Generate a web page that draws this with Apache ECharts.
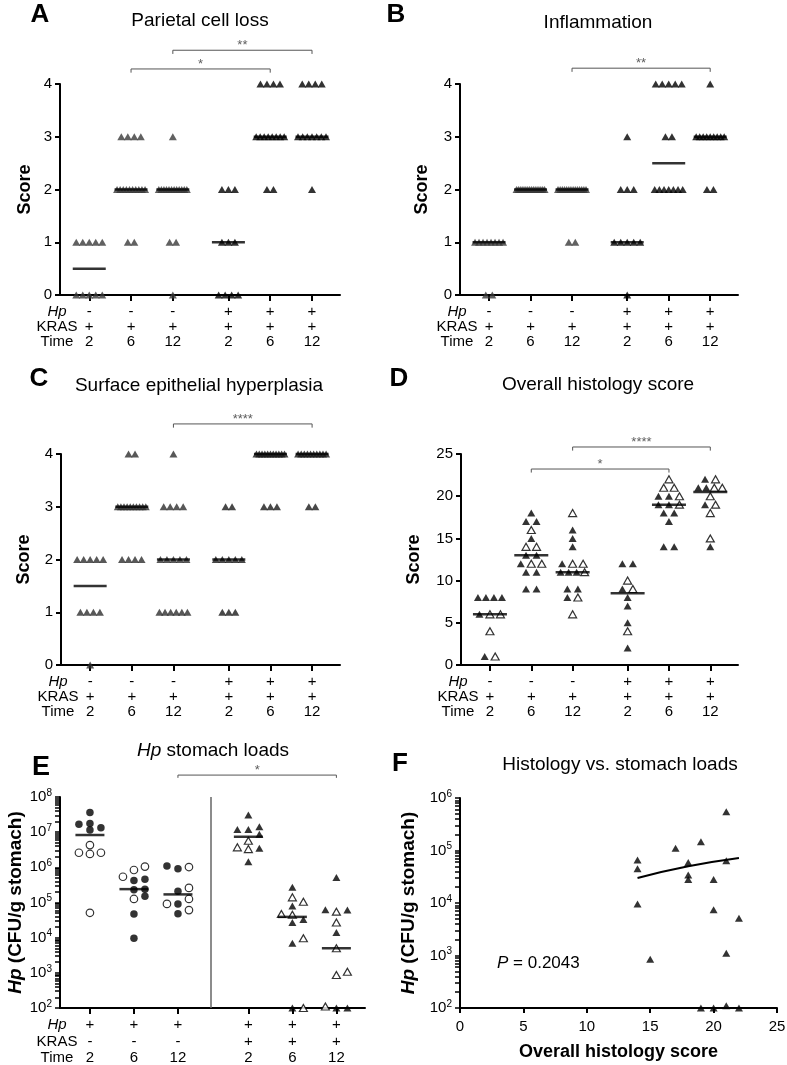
<!DOCTYPE html>
<html>
<head>
<meta charset="utf-8">
<title>Histology and stomach loads</title>
<script src="https://cdn.jsdelivr.net/npm/echarts@6.0.0/dist/echarts.min.js"></script>
<style>
  html, body { margin: 0; padding: 0; background: #fff; }
  #main { width: 787px; height: 1065px; }
</style>
</head>
<body>
<div id="main"></div>
<script>
// ---- values ----
var hpRow = ['-', '-', '-', '+', '+', '+'];
var krasRow = ['+', '+', '+', '+', '+', '+'];
var timeRow = ['2', '6', '12', '2', '6', '12'];
var hpRowLoads = ['+', '+', '+', '+', '+', '+'];
var krasRowLoads = ['-', '-', '-', '+', '+', '+'];

// A  Parietal cell loss
var parietalScores = [
  [1, 1, 1, 1, 1, 0, 0, 0, 0, 0],
  [3, 3, 3, 3, 2, 2, 2, 2, 2, 2, 2, 2, 2, 2, 1, 1],
  [3, 2, 2, 2, 2, 2, 2, 2, 2, 2, 2, 2, 2, 1, 1, 0],
  [2, 2, 2, 1, 1, 1, 0, 0, 0, 0],
  [4, 4, 4, 4, 3, 3, 3, 3, 3, 3, 3, 3, 2, 2],
  [4, 4, 4, 4, 3, 3, 3, 3, 3, 3, 3, 2]
];
var parietalMedian = [0.5, 2, 2, 1, 3, 3];

// B  Inflammation
var inflammationScores = [
  [1, 1, 1, 1, 1, 1, 1, 1, 0, 0],
  [2, 2, 2, 2, 2, 2, 2, 2, 2, 2, 2, 2, 2, 2, 2, 2],
  [2, 2, 2, 2, 2, 2, 2, 2, 2, 2, 2, 2, 2, 2, 1, 1],
  [3, 2, 2, 2, 1, 1, 1, 1, 1, 0],
  [4, 4, 4, 4, 4, 3, 3, 2, 2, 2, 2, 2, 2, 2],
  [4, 3, 3, 3, 3, 3, 3, 3, 3, 3, 2, 2]
];
var inflammationMedian = [1, 2, 2, 1, 2.5, 3];

// C  Surface epithelial hyperplasia
var hyperplasiaScores = [
  [2, 2, 2, 2, 2, 1, 1, 1, 1, 0],
  [4, 4, 3, 3, 3, 3, 3, 3, 3, 3, 3, 3, 2, 2, 2, 2],
  [4, 3, 3, 3, 3, 2, 2, 2, 2, 2, 1, 1, 1, 1, 1, 1],
  [3, 3, 2, 2, 2, 2, 2, 1, 1, 1],
  [4, 4, 4, 4, 4, 4, 4, 4, 4, 4, 4, 3, 3, 3],
  [4, 4, 4, 4, 4, 4, 4, 4, 4, 4, 3, 3]
];
var hyperplasiaMedian = [1.5, 3, 2, 2, 4, 4];

// D  Overall histology score (filled and open triangles)
var histologyFilled = [
  [8, 8, 8, 8, 6, 1],
  [18, 17, 17, 15, 13, 13, 12, 11, 11, 9, 9],
  [16, 15, 14, 12, 11, 11, 11, 9, 9, 8],
  [12, 12, 9, 8, 7, 5, 2],
  [20, 20, 19, 19, 18, 18, 17, 14, 14],
  [22, 21, 21, 19, 14]
];
var histologyOpen = [
  [6, 6, 4, 1],
  [16, 14, 14, 12, 12],
  [18, 12, 12, 11, 8, 6],
  [10, 9, 4],
  [22, 21, 21, 20, 19],
  [22, 21, 21, 20, 19, 18, 15]
];
var histologyMedian = [6, 13, 11, 8.5, 19, 20.5];

// E  Hp stomach loads (CFU/g)
var loadsFilled = [
  [3.6e7, 1.34e7, 1.67e7, 1.77e7, 1.15e7],
  [4.2e5, 4.6e5, 2.4e5, 2.3e5, 1.5e5, 4.7e4, 9.6e3],
  [1.09e6, 9.1e5, 2.1e5, 9.1e4, 4.8e4],
  [3.1e7, 1.2e7, 1.43e7, 1.2e7, 8.7e6, 3.5e6, 1.45e6],
  [2.7e5, 7.9e4, 2.7e4, 3.3e4, 6.9e3, 100],
  [5.1e5, 6.1e4, 6.2e4, 1.4e4, 100, 100]
];
var loadsOpen = [
  [4.3e6, 2.6e6, 2.6e6, 2.4e6, 5.1e4],
  [1.05e6, 8.4e5, 5.4e5, 1.26e5],
  [1.02e6, 2.6e5, 1.26e5, 6.1e4, 9.1e4],
  [5.7e6, 3.7e6, 3.3e6],
  [1.05e5, 1.4e5, 4.7e4, 4.5e4, 9.6e3, 100],
  [5.5e4, 2.7e4, 5e3, 8.7e2, 1.07e3, 110]
];
var loadsMedian = [8.3e6, 2.4e5, 1.7e5, 7.4e6, 3.9e4, 5e3];

// F  Histology vs. stomach loads
var corrScore = [14, 14, 14, 15, 17, 18, 18, 18, 19, 19, 20, 20, 20, 21, 21, 21, 21, 22, 22];
var corrLoad = [6.6e4, 4.5e4, 9.6e3, 8.5e2, 1.1e5, 5.9e4, 3.4e4, 2.8e4, 1.47e5, 100,
                2.8e4, 7.4e3, 100, 5.5e5, 6.4e4, 1.1e3, 110, 5.1e3, 100];
var fitScore = [14, 18, 22];
var fitLoad = [3.0e4, 5.0e4, 7.2e4];
var pValueText = '0.2043';

// ---- layout ----
var FONT = 'Arial, "Liberation Sans", sans-serif';
var SCORE_POS = [1, 2, 3, 4.33, 5.33, 6.33];
var LOAD_POS = [1, 2, 3, 4.6, 5.6, 6.6];
var grids = [
  { left: 60, top: 84, width: 280, height: 211 },
  { left: 460, top: 84, width: 278, height: 211 },
  { left: 61, top: 454, width: 279, height: 211 },
  { left: 461, top: 454, width: 277, height: 211 },
  { left: 60, top: 797, width: 305, height: 211 },
  { left: 460, top: 798, width: 317, height: 210 }
];

var option = {
  animation: false,
  backgroundColor: '#fff',
  textStyle: { fontFamily: FONT },
  grid: grids.map(function (g) {
    return { left: g.left, top: g.top, width: g.width, height: g.height, outerBoundsMode: 'none', containLabel: false };
  }),
  xAxis: [],
  yAxis: [],
  series: [],
  graphic: []
};

function nearestIndex(pos, v) {
  var best = 0;
  pos.forEach(function (p, i) { if (Math.abs(p - v) < Math.abs(pos[best] - v)) best = i; });
  return best;
}

// spread tied values side by side, centred on the group
function rowOffsets(values, stepPx, spanPx, pxPerUnit) {
  var count = {}, seen = {};
  values.forEach(function (v) { count[v] = (count[v] || 0) + 1; });
  return values.map(function (v) {
    var n = count[v];
    var i = seen[v] = seen[v] == null ? 0 : seen[v] + 1;
    var step = n > 1 ? Math.min(stepPx, spanPx / (n - 1)) : 0;
    return (i - (n - 1) / 2) * step / pxPerUnit;
  });
}

// simple beeswarm for continuous values
function swarmOffsets(values, toPx, dPx, stepPx, pxPerUnit) {
  var order = values.map(function (v, i) { return i; })
    .sort(function (a, b) { return values[a] - values[b]; });
  var placed = [], out = [];
  order.forEach(function (i) {
    var py = toPx(values[i]);
    for (var k = 0; k < 40; k++) {
      var cands = k === 0 ? [0] : [k * stepPx, -k * stepPx];
      for (var c = 0; c < cands.length; c++) {
        var cx = cands[c];
        var ok = placed.every(function (p) {
          var dx = p[0] - cx, dy = p[1] - py;
          return dx * dx + dy * dy >= dPx * dPx;
        });
        if (ok) { placed.push([cx, py]); out[i] = cx / pxPerUnit; return; }
      }
    }
  });
  return out;
}

function axisLine() {
  return { show: true, onZero: false, lineStyle: { color: '#000', width: 2 } };
}

function rowsXAxis(gi, ext, pos, rows, lh) {
  option.xAxis.push({
    type: 'value', gridIndex: gi, min: ext[0], max: ext[1],
    axisLine: axisLine(),
    axisTick: { show: true, customValues: pos, length: 6, lineStyle: { color: '#000', width: 2 } },
    axisLabel: {
      customValues: pos, margin: 9, fontSize: 15, lineHeight: lh, color: '#000', fontFamily: FONT,
      formatter: function (v) {
        var i = nearestIndex(pos, v);
        return rows.map(function (r) { return r[i]; }).join('\n');
      }
    },
    splitLine: { show: false },
    name: '{i|Hp}\nKRAS\nTime', nameLocation: 'start', nameGap: 3, nameMoveOverlap: false,
    nameTextStyle: {
      align: 'center', verticalAlign: 'top', fontSize: 15, lineHeight: lh, color: '#000',
      fontFamily: FONT, padding: [9, 0, 0, 0],
      rich: { i: { fontStyle: 'italic', fontSize: 15, lineHeight: lh, color: '#000', fontFamily: FONT } }
    }
  });
  return option.xAxis.length - 1;
}

function scoreYAxis(gi, max, interval, nameGap) {
  option.yAxis.push({
    type: 'value', gridIndex: gi, min: 0, max: max, interval: interval,
    axisLine: axisLine(),
    axisTick: { show: true, length: 5, lineStyle: { color: '#000', width: 2 } },
    axisLabel: { fontSize: 15, color: '#000', margin: 8, fontFamily: FONT },
    splitLine: { show: false },
    name: 'Score', nameLocation: 'middle', nameGap: nameGap, nameMoveOverlap: false,
    nameTextStyle: { fontSize: 18, fontWeight: 'bold', color: '#000', fontFamily: FONT }
  });
  return option.yAxis.length - 1;
}

function supLabel(v) {
  return '10{s|' + Math.round(Math.log10(v)) + '}';
}

function logYAxis(gi, min, max, nameGap) {
  // decade labels, plus 2..9 ticks inside each decade
  var majors = [], ticks = [];
  for (var e = Math.log10(min); e <= Math.log10(max); e++) {
    var p = Math.pow(10, e);
    majors.push(p);
    ticks.push(p);
    if (p < max) for (var m = 2; m <= 9; m++) ticks.push(m * p);
  }
  option.yAxis.push({
    type: 'log', logBase: 10, gridIndex: gi, min: min, max: max,
    axisLine: axisLine(),
    axisTick: { show: true, customValues: ticks, length: 5, lineStyle: { color: '#000', width: 1.5 } },
    axisLabel: {
      customValues: majors, formatter: supLabel, margin: 8, color: '#000', fontFamily: FONT,
      fontSize: 15, lineHeight: 18,
      rich: { s: { fontSize: 10, verticalAlign: 'top', lineHeight: 10, color: '#000', fontFamily: FONT } }
    },
    splitLine: { show: false },
    name: '{i|Hp} (CFU/g stomach)', nameLocation: 'middle', nameGap: nameGap, nameMoveOverlap: false,
    nameTextStyle: {
      fontSize: 19, fontWeight: 'bold', color: '#000', fontFamily: FONT,
      rich: { i: { fontStyle: 'italic', fontWeight: 'bold', fontSize: 19, color: '#000', fontFamily: FONT } }
    }
  });
  return option.yAxis.length - 1;
}

function medianSeries(xi, yi, pos, medians, width) {
  option.series.push({
    type: 'scatter', xAxisIndex: xi, yAxisIndex: yi, silent: true, z: 5,
    symbol: 'rect', symbolSize: [width, 2.5], itemStyle: { color: '#000' },
    data: medians.map(function (m, i) { return [pos[i], m]; })
  });
}

function bracket(xi, yi, x1, x2, y, yEnd, text) {
  option.series.push({
    type: 'line', xAxisIndex: xi, yAxisIndex: yi, clip: false, silent: true, symbol: 'none',
    lineStyle: { color: '#555', width: 1 },
    data: [[x1, yEnd], [x1, y], [x2, y], [x2, yEnd]]
  });
  option.series.push({
    type: 'scatter', xAxisIndex: xi, yAxisIndex: yi, clip: false, silent: true, symbolSize: 0,
    label: { show: true, position: 'top', distance: -2, formatter: text, fontSize: 13, color: '#333', fontFamily: FONT },
    data: [[(x1 + x2) / 2, y]]
  });
}

function pointSeries(xi, yi, pts, symbol, size, filled, color) {
  option.series.push({
    type: 'scatter', xAxisIndex: xi, yAxisIndex: yi, clip: false, silent: true, z: 3,
    symbol: symbol, symbolSize: size,
    itemStyle: filled ? { color: color } : { color: '#fff', borderColor: '#000', borderWidth: 1.2 },
    data: pts
  });
}

// panels A-C: tied integer scores
function tiedPanel(gi, scores, medians, nameGap, colors, brackets) {
  var ext = [0.3, 7];
  var ppu = grids[gi].width / (ext[1] - ext[0]);
  var xi = rowsXAxis(gi, ext, SCORE_POS, [hpRow, krasRow, timeRow], 15);
  var yi = scoreYAxis(gi, 4, 1, nameGap);
  [0, 1].forEach(function (half) {
    var pts = [];
    scores.forEach(function (grp, g) {
      if ((g < 3) !== (half === 0)) return;
      var off = rowOffsets(grp, 6.5, 28, ppu);
      grp.forEach(function (v, k) { pts.push([SCORE_POS[g] + off[k], v]); });
    });
    pointSeries(xi, yi, pts, 'triangle', [8, 7], true, colors[half]);
  });
  medianSeries(xi, yi, SCORE_POS, medians, 33);
  brackets.forEach(function (b) {
    bracket(xi, yi, SCORE_POS[b[0]], SCORE_POS[b[1]], b[2], b[2] - 0.07, b[3]);
  });
}

tiedPanel(0, parietalScores, parietalMedian, 26, ['#3a3a3a', '#000'],
  [[2, 5, 4.64, '**'], [1, 4, 4.285, '*']]);
tiedPanel(1, inflammationScores, inflammationMedian, 29, ['#3a3a3a', '#000'],
  [[2, 5, 4.30, '**']]);
tiedPanel(2, hyperplasiaScores, hyperplasiaMedian, 28, ['#2e2e2e', '#1a1a1a'],
  [[2, 5, 4.57, '****']]);

// panel D
(function () {
  var gi = 3, ext = [0.3, 7];
  var ppu = grids[gi].width / (ext[1] - ext[0]);
  var xi = rowsXAxis(gi, ext, SCORE_POS, [hpRow, krasRow, timeRow], 15);
  var yi = scoreYAxis(gi, 25, 5, 38);
  var filledPts = [], openPts = [];
  histologyFilled.forEach(function (f, g) {
    var all = f.concat(histologyOpen[g]);
    var off = rowOffsets(all, 10.5, 24, ppu);
    all.forEach(function (v, k) {
      (k < f.length ? filledPts : openPts).push([SCORE_POS[g] + off[k], v]);
    });
  });
  pointSeries(xi, yi, filledPts, 'triangle', [8, 7], true, '#000');
  pointSeries(xi, yi, openPts, 'triangle', [8, 7], false);
  medianSeries(xi, yi, SCORE_POS, histologyMedian, 34);
  bracket(xi, yi, SCORE_POS[2], SCORE_POS[5], 25.83, 25.4, '****');
  bracket(xi, yi, SCORE_POS[1], SCORE_POS[4], 23.22, 22.8, '*');
})();

// panel E
(function () {
  var gi = 4, ext = [0.32, 7.25];
  var ppu = grids[gi].width / (ext[1] - ext[0]);
  var pxPerDecade = grids[gi].height / 6;
  var xi = rowsXAxis(gi, ext, LOAD_POS, [hpRowLoads, krasRowLoads, timeRow], 16.5);
  var yi = logYAxis(gi, 100, 1e8, 35);
  var sets = { fc: [], oc: [], ft: [], ot: [] };
  loadsFilled.forEach(function (f, g) {
    var all = f.concat(loadsOpen[g]);
    var off = swarmOffsets(all, function (v) { return -Math.log10(v) * pxPerDecade; }, 6.5, 11, ppu);
    all.forEach(function (v, k) {
      var key = (k < f.length ? 'f' : 'o') + (g < 3 ? 'c' : 't');
      sets[key].push([LOAD_POS[g] + off[k], v]);
    });
  });
  pointSeries(xi, yi, sets.fc, 'circle', 7.5, true, '#000');
  pointSeries(xi, yi, sets.oc, 'circle', 7.5, false);
  pointSeries(xi, yi, sets.ft, 'triangle', [8, 7], true, '#000');
  pointSeries(xi, yi, sets.ot, 'triangle', [8, 7], false);
  medianSeries(xi, yi, LOAD_POS, loadsMedian, 29);
  option.series[option.series.length - 1].markLine = {
    symbol: 'none', silent: true, label: { show: false },
    lineStyle: { color: '#666', width: 1.5, type: 'solid' },
    data: [{ xAxis: 3.75 }]
  };
  bracket(xi, yi, LOAD_POS[2], LOAD_POS[5], 4.2e8, 3.5e8, '*');
})();

// panel F
(function () {
  var gi = 5;
  option.xAxis.push({
    type: 'value', gridIndex: gi, min: 0, max: 25, interval: 5,
    axisLine: axisLine(),
    axisTick: { show: true, length: 5, lineStyle: { color: '#000', width: 2 } },
    axisLabel: { fontSize: 15, color: '#000', margin: 11, fontFamily: FONT },
    splitLine: { show: false },
    name: 'Overall histology score', nameLocation: 'middle', nameGap: 35, nameMoveOverlap: false,
    nameTextStyle: { fontSize: 18, fontWeight: 'bold', color: '#000', fontFamily: FONT }
  });
  var xi = option.xAxis.length - 1;
  var yi = logYAxis(gi, 100, 1e6, 42);
  pointSeries(xi, yi, corrScore.map(function (s, i) { return [s, corrLoad[i]]; }), 'triangle', [8, 7], true, '#000');
  option.series.push({
    type: 'line', xAxisIndex: xi, yAxisIndex: yi, smooth: true, symbol: 'none', silent: true,
    lineStyle: { color: '#000', width: 2 },
    data: fitScore.map(function (s, i) { return [s, fitLoad[i]]; })
  });
})();

// titles and panel letters
function text(x, y, str, size, weight, align, rich) {
  option.graphic.push({
    type: 'text', x: x, y: y, silent: true,
    style: {
      text: str, fontSize: size, fontWeight: weight, fontFamily: FONT, fill: '#000',
      align: align, verticalAlign: 'middle', rich: rich
    }
  });
}
var italic = function (size) {
  return { i: { fontStyle: 'italic', fontSize: size, fontFamily: FONT, fill: '#000' } };
};
text(40, 15, 'A', 26, 'bold', 'center');
text(200, 21, 'Parietal cell loss', 19, 'normal', 'center');
text(396, 15, 'B', 26, 'bold', 'center');
text(598, 23, 'Inflammation', 19, 'normal', 'center');
text(39, 379, 'C', 26, 'bold', 'center');
text(199, 386, 'Surface epithelial hyperplasia', 19, 'normal', 'center');
text(399, 379, 'D', 26, 'bold', 'center');
text(598, 385, 'Overall histology score', 19, 'normal', 'center');
text(41, 768, 'E', 27, 'bold', 'center');
text(213, 751, '{i|Hp} stomach loads', 19, 'normal', 'center', italic(19));
text(400, 764, 'F', 26, 'bold', 'center');
text(620, 765, 'Histology vs. stomach loads', 19, 'normal', 'center');
text(497, 963, '{i|P} = ' + pValueText, 17, 'normal', 'left', italic(17));

var chart = echarts.init(document.getElementById('main'));
chart.setOption(option);
</script>
</body>
</html>
